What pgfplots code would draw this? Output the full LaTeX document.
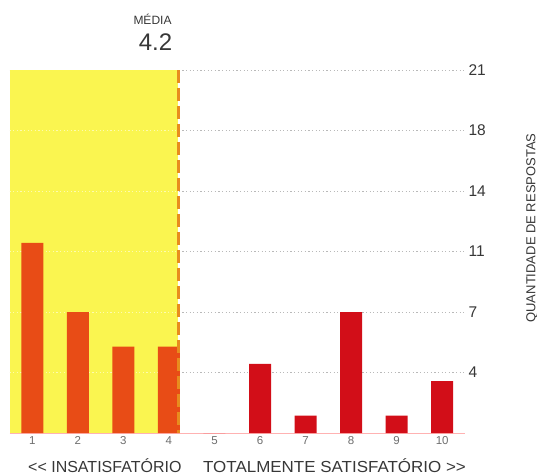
\documentclass[border=0pt]{standalone}
\usepackage{pgfplots}
\pgfplotsset{compat=1.18}
\usepackage{fontspec}
\setmainfont{Liberation Sans}
\definecolor{bgyel}{RGB}{250,245,80}
\definecolor{barL}{RGB}{232,76,22}
\definecolor{barR}{RGB}{210,14,24}
\definecolor{mean}{RGB}{232,140,30}
\definecolor{txt}{RGB}{55,55,55}
\definecolor{tick}{RGB}{110,110,110}
\begin{document}
\begin{tikzpicture}
\path[use as bounding box] (-9.5pt,-42pt) rectangle (527.5pt,433pt);
\begin{axis}[
  at={(0pt,0pt)}, anchor=south west,
  scale only axis, width=455.5pt, height=363pt,
  xmin=0.5, xmax=10.5, ymin=0, ymax=21,
  clip=false,
  axis x line*=bottom, axis y line*=right,
  x axis line style={draw=red!30, line width=0.8pt, -},
  y axis line style={draw=none},
  major tick length=0pt,
  xtick={1,...,10},
  xticklabel style={font=\fontsize{11.5}{13}\selectfont, text=tick},
  ytick={3.5,7,10.5,14,17.5,21},
  yticklabels={4,7,11,14,18,21},
  yticklabel style={font=\fontsize{15.5}{18}\selectfont, text=txt, anchor=west},
  xtick pos=bottom, ytick pos=right,
  ymajorgrids,
  grid style={gray!55, line width=0.9pt, dash pattern=on 1.2pt off 2.4pt},
  /pgf/number format/assume math mode=true,
]
\fill[bgyel] (axis cs:0.5,0) rectangle (axis cs:4.2,21);
\draw[white!55!bgyel, line width=0.9pt, dash pattern=on 1.2pt off 2.4pt] (axis cs:0.5,3.5) -- (axis cs:4.2,3.5);
\draw[white!55!bgyel, line width=0.9pt, dash pattern=on 1.2pt off 2.4pt] (axis cs:0.5,7) -- (axis cs:4.2,7);
\draw[white!55!bgyel, line width=0.9pt, dash pattern=on 1.2pt off 2.4pt] (axis cs:0.5,10.5) -- (axis cs:4.2,10.5);
\draw[white!55!bgyel, line width=0.9pt, dash pattern=on 1.2pt off 2.4pt] (axis cs:0.5,14) -- (axis cs:4.2,14);
\draw[white!55!bgyel, line width=0.9pt, dash pattern=on 1.2pt off 2.4pt] (axis cs:0.5,17.5) -- (axis cs:4.2,17.5);
\addplot[ybar, bar width=22pt, bar shift=0pt, fill=barL, draw=none]
  coordinates {(1,11) (2,7) (3,5) (4,5)};
\addplot[ybar, bar width=22pt, bar shift=0pt, fill=barR, draw=none]
  coordinates {(5,0) (6,4) (7,1) (8,7) (9,1) (10,3)};
\draw[mean, line width=3pt, dash pattern=on 13pt off 5pt] (axis cs:4.2,21) -- (axis cs:4.2,0);
\end{axis}
\node[font=\fontsize{12}{14}\selectfont, text=txt] at (143pt,414pt) {MÉDIA};
\node[font=\fontsize{24}{28}\selectfont, text=txt] at (146pt,391pt) {4.2};
\node[font=\fontsize{16}{19}\selectfont, text=txt, anchor=west, inner sep=0pt] at (18.5pt,-33pt) {<{}< INSATISFATÓRIO};
\node[font=\fontsize{16}{19}\selectfont, text=txt, anchor=east, inner sep=0pt] at (456.5pt,-33pt) {\scalebox{1.06}[1]{TOTALMENTE SATISFATÓRIO >{}>}};
\node[font=\fontsize{13}{15}\selectfont, text=txt, rotate=90] at (522.5pt,205pt) {QUANTIDADE DE RESPOSTAS};
\end{tikzpicture}
\end{document}
